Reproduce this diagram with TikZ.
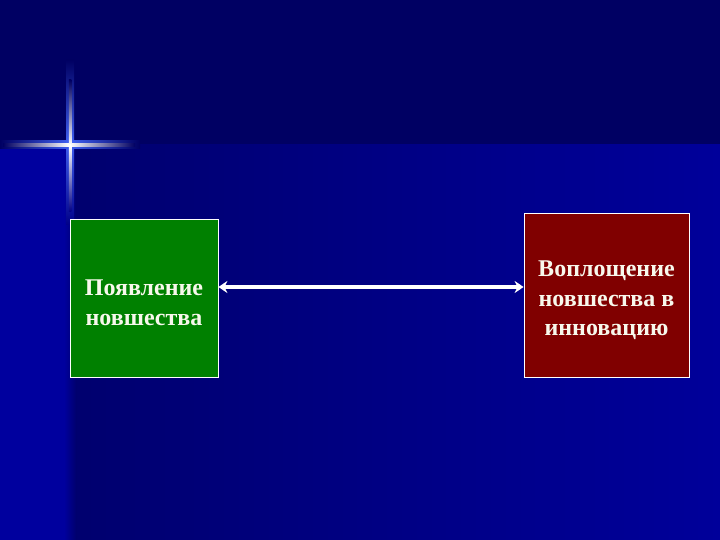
\documentclass[tikz,border=0pt]{standalone}
\usepackage{fontspec}
\setmainfont{Liberation Serif}
\usetikzlibrary{arrows.meta}
\definecolor{topband}{HTML}{000063}
\definecolor{mainleft}{HTML}{00006E}
\definecolor{mainright}{HTML}{00009A}
\definecolor{stripc}{HTML}{00009E}
\definecolor{stripedge}{HTML}{000088}
\definecolor{boxgreen}{HTML}{008000}
\definecolor{boxred}{HTML}{800000}
\definecolor{txtc}{HTML}{F8F8EC}
\definecolor{glowc}{HTML}{4060F0}
\newcommand{\toppad}[1]{\rule{0pt}{#1}}
\begin{document}
\begin{tikzpicture}[x=1pt,y=-1pt,
  box/.style={draw=white, line width=0.8pt, inner sep=0pt, align=center,
    text=txtc, font=\fontsize{24}{29.5}\selectfont\bfseries},
  link/.style={white, line width=3.5pt, {Stealth[length=9pt,width=12pt]}-{Stealth[length=9pt,width=12pt]}}]
\useasboundingbox (0,0) rectangle (720,540);
% background
\fill[topband] (0,0) rectangle (720,146);
\shade[left color=mainleft, right color=mainright] (68,145) rectangle (720,540);
\fill[stripc] (0,145) rectangle (68,540);
\shade[left color=stripc, right color=mainleft] (64,145) rectangle (76,540);
% sparkle glow
\shade[left color=topband, right color=topband, middle color=glowc] (0,141) rectangle (140,149);
\shade[top color=topband, bottom color=stripedge, middle color=glowc] (66,60) rectangle (74,225);
% sparkle core
\shade[left color=topband, right color=topband, middle color=white] (3,144) rectangle (135,146.5);
\shade[top color=topband, bottom color=stripedge, middle color=white] (68.8,80) rectangle (71.3,212);
\fill[white] (70,145.2) circle (1.6);
% boxes
\node[box, fill=boxgreen, minimum width=148pt, minimum height=158pt] (g) at (144,298)
  {\toppad{25pt}Появление\\новшества};
\node[box, fill=boxred, minimum width=165pt, minimum height=164pt] (r) at (606.5,295)
  {\toppad{27pt}Воплощение\\новшества в\\инновацию};
% connector
\draw[link] ([yshift=11pt]g.east) -- ([yshift=8pt]r.west);
\end{tikzpicture}
\end{document}
